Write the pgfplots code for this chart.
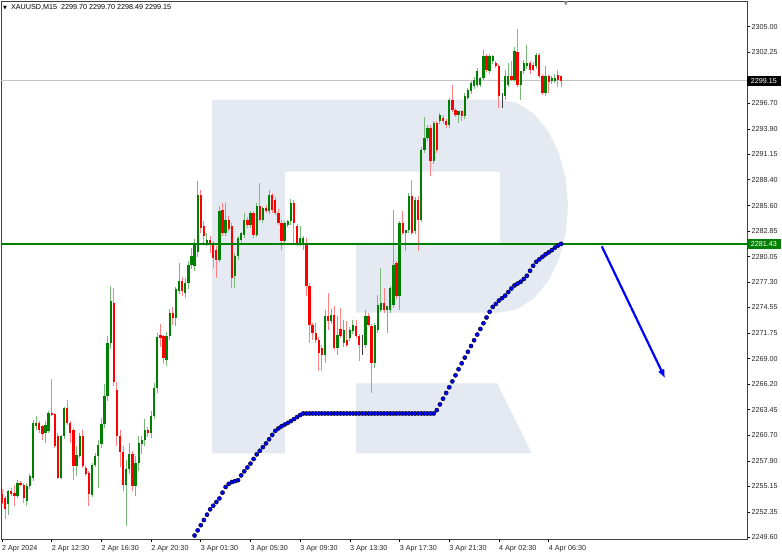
\documentclass[border=0pt]{standalone}
\usepackage{fontspec}
\setmainfont{Liberation Sans}
\newfontfamily\dejavu{DejaVu Sans}
\usepackage{pgfplots}
\usepackage{pgfplotstable}
\pgfplotsset{compat=1.18}
\usetikzlibrary{arrows.meta}
\definecolor{cgreen}{RGB}{0,128,0}
\definecolor{cred}{RGB}{255,0,0}
\definecolor{wgreen}{RGB}{120,185,120}
\definecolor{wred}{RGB}{255,130,130}
\definecolor{wm}{RGB}{228,233,242}
\definecolor{dotblue}{RGB}{0,0,255}
\definecolor{pline}{RGB}{195,195,195}

\pgfplotstableread{
i o h l c
2 2253.17 2254.80 2252.02 2254.62
5 2254.08 2255.88 2253.90 2255.52
8 2253.53 2255.50 2253.00 2255.16
9 2255.16 2256.50 2254.80 2256.24
10 2256.06 2262.30 2255.70 2262.03
11 2261.67 2262.75 2261.30 2262.03
14 2260.94 2262.21 2259.86 2261.85
15 2261.12 2263.30 2260.90 2263.11
19 2256.06 2260.76 2255.90 2260.58
20 2260.58 2263.80 2260.30 2263.65
24 2257.33 2259.50 2256.30 2258.49
25 2258.49 2260.90 2258.20 2260.58
29 2254.26 2257.70 2254.00 2257.51
30 2257.51 2258.80 2257.20 2258.41
31 2258.41 2260.20 2255.00 2259.68
32 2259.68 2262.50 2259.30 2261.85
33 2261.85 2266.20 2261.50 2264.90
34 2264.90 2271.40 2264.40 2270.70
35 2270.70 2276.90 2270.00 2275.20
40 2255.30 2258.00 2250.80 2257.00
41 2257.00 2259.80 2256.50 2258.60
43 2255.20 2258.40 2254.10 2257.70
44 2257.70 2260.60 2256.80 2259.86
45 2259.70 2260.60 2258.60 2260.20
46 2260.20 2262.40 2259.50 2261.30
48 2260.90 2263.30 2260.40 2262.75
49 2262.75 2266.40 2262.40 2265.80
50 2265.80 2271.80 2265.30 2271.40
53 2268.90 2271.90 2268.20 2271.40
54 2271.40 2274.40 2271.00 2273.95
56 2273.40 2276.80 2272.50 2276.50
57 2276.30 2279.40 2276.00 2277.40
59 2276.10 2277.80 2275.60 2277.20
60 2277.20 2279.60 2276.50 2279.20
61 2279.20 2281.00 2278.70 2280.10
62 2279.00 2282.00 2278.50 2281.50
63 2280.60 2288.24 2280.00 2286.79
66 2281.55 2282.63 2281.20 2281.91
70 2279.74 2285.52 2279.50 2284.98
72 2282.63 2285.89 2282.30 2284.08
75 2277.94 2280.50 2276.67 2280.10
76 2280.10 2282.30 2279.70 2282.09
77 2281.91 2282.70 2281.50 2282.63
78 2282.45 2284.80 2282.10 2284.08
80 2283.54 2284.98 2283.20 2284.80
82 2282.45 2285.89 2282.20 2285.52
84 2284.08 2285.40 2283.70 2285.34
86 2285.00 2287.33 2284.70 2286.79
91 2281.73 2283.90 2281.40 2283.72
92 2283.54 2284.00 2283.30 2283.90
93 2283.90 2286.30 2283.50 2285.89
96 2281.54 2283.36 2281.20 2282.09
97 2281.54 2282.30 2280.80 2282.09
104 2269.44 2274.32 2268.53 2273.59
106 2273.05 2274.32 2272.80 2273.77
108 2270.16 2273.59 2269.44 2271.60
110 2270.70 2273.23 2270.30 2272.15
112 2271.24 2272.40 2270.90 2272.15
113 2271.97 2273.20 2271.70 2272.69
117 2270.52 2274.32 2270.20 2273.59
120 2268.53 2272.90 2267.99 2272.69
121 2272.15 2275.94 2271.80 2274.86
122 2274.32 2278.83 2274.00 2275.04
124 2274.32 2274.70 2271.79 2274.68
125 2274.31 2276.90 2273.90 2276.66
126 2274.86 2285.16 2274.50 2279.19
128 2275.76 2283.90 2274.31 2283.71
130 2282.63 2283.00 2280.64 2282.99
131 2282.99 2286.96 2282.60 2286.60
133 2282.81 2286.50 2282.50 2286.24
135 2284.07 2292.00 2283.80 2291.66
136 2291.66 2295.27 2291.30 2292.93
137 2292.93 2294.30 2292.60 2294.01
139 2290.40 2294.80 2290.10 2294.55
141 2294.73 2295.60 2294.40 2295.45
144 2294.37 2297.30 2294.00 2297.08
147 2295.46 2295.90 2294.55 2295.82
149 2295.28 2297.80 2295.00 2297.45
150 2297.27 2298.40 2297.00 2298.17
151 2297.99 2299.10 2297.70 2298.89
152 2298.53 2299.50 2298.30 2299.25
153 2298.71 2300.50 2298.50 2300.16
154 2298.71 2299.60 2298.50 2299.44
155 2299.44 2302.51 2299.20 2301.78
157 2300.16 2302.00 2299.90 2301.78
158 2301.24 2301.97 2301.00 2301.78
162 2297.45 2300.34 2297.10 2299.62
163 2298.71 2301.06 2298.50 2299.62
165 2299.25 2302.80 2299.00 2302.33
167 2298.71 2300.16 2297.09 2300.16
168 2300.16 2301.40 2299.90 2301.06
169 2300.70 2303.05 2300.40 2301.06
172 2300.70 2302.15 2300.40 2301.97
175 2297.81 2300.70 2297.50 2299.62
177 2299.07 2299.62 2298.80 2299.44
178 2299.07 2299.90 2298.90 2299.44
}\greenbars

\pgfplotstableread{
i o h l c
0 2254.26 2254.80 2253.20 2253.35
1 2253.90 2254.10 2251.55 2252.63
3 2254.62 2254.98 2254.08 2254.26
4 2254.44 2255.34 2252.99 2254.08
6 2255.52 2255.70 2255.16 2255.34
7 2255.34 2255.52 2253.35 2253.90
12 2262.03 2262.21 2260.94 2261.30
13 2261.67 2261.85 2260.15 2260.76
16 2263.11 2266.73 2262.75 2262.93
17 2262.93 2263.11 2259.30 2259.50
18 2260.58 2260.90 2255.90 2256.06
21 2263.65 2264.56 2261.80 2262.03
22 2262.03 2262.20 2259.86 2260.94
23 2261.30 2261.50 2255.88 2257.33
26 2260.58 2261.30 2257.10 2257.33
27 2257.15 2257.40 2256.30 2256.43
28 2256.61 2256.80 2253.00 2254.26
36 2275.04 2276.66 2266.00 2266.50
37 2265.60 2266.50 2259.50 2260.60
38 2260.60 2261.30 2257.20 2258.90
39 2258.90 2259.50 2254.60 2255.30
42 2258.60 2259.00 2254.60 2255.20
47 2261.30 2261.60 2260.50 2260.90
51 2271.60 2272.70 2270.30 2271.20
52 2271.40 2271.60 2268.40 2269.10
55 2273.95 2274.60 2272.60 2273.40
58 2277.40 2277.80 2275.80 2276.30
64 2286.79 2287.33 2282.63 2283.18
65 2283.36 2283.90 2281.55 2282.27
67 2281.91 2282.27 2280.46 2281.37
68 2281.37 2281.73 2278.84 2279.92
69 2280.83 2281.20 2277.75 2279.74
71 2285.16 2285.90 2282.30 2282.63
73 2284.08 2284.50 2282.80 2283.00
74 2283.36 2283.70 2276.67 2277.75
79 2284.08 2284.40 2283.20 2283.54
81 2284.80 2285.00 2282.10 2282.45
83 2285.52 2288.05 2283.90 2284.08
85 2285.34 2285.70 2284.80 2285.00
87 2286.79 2286.97 2284.80 2285.16
88 2286.25 2286.50 2284.60 2284.80
89 2284.80 2285.20 2283.50 2283.72
90 2283.72 2284.00 2280.83 2281.73
94 2285.89 2286.25 2281.55 2283.72
95 2283.36 2283.60 2281.20 2281.40
98 2281.54 2282.10 2275.76 2276.85
99 2276.85 2277.20 2270.70 2272.69
100 2272.69 2272.87 2271.06 2271.79
101 2271.79 2272.87 2270.70 2271.06
102 2271.06 2271.40 2267.63 2269.60
103 2270.16 2270.50 2267.63 2269.44
105 2273.59 2276.12 2272.15 2273.05
107 2273.77 2274.68 2269.98 2270.16
109 2272.15 2274.50 2271.20 2271.43
111 2271.06 2273.05 2270.30 2270.52
114 2272.51 2273.23 2271.20 2271.43
115 2271.43 2271.70 2268.71 2270.52
118 2273.59 2274.00 2272.50 2272.69
119 2272.51 2272.80 2265.28 2268.53
123 2275.04 2276.67 2273.90 2274.32
127 2279.37 2279.60 2275.50 2275.76
129 2283.71 2284.97 2282.40 2282.63
132 2286.60 2288.40 2282.40 2282.63
134 2286.24 2286.60 2280.64 2284.07
138 2294.01 2294.30 2288.77 2290.40
140 2294.55 2294.80 2291.30 2291.66
142 2295.09 2295.45 2294.40 2294.73
143 2294.73 2295.00 2294.00 2294.37
145 2297.08 2298.71 2295.80 2295.99
146 2295.99 2296.20 2295.20 2295.46
148 2295.82 2296.00 2294.73 2295.28
156 2301.78 2302.00 2300.10 2300.34
159 2301.06 2301.30 2300.50 2300.70
160 2300.70 2301.00 2296.18 2297.45
164 2299.62 2301.24 2299.10 2299.25
166 2302.33 2304.75 2298.50 2298.71
170 2301.06 2301.30 2299.90 2300.34
171 2300.88 2301.20 2300.20 2300.34
173 2301.97 2302.15 2299.50 2299.62
174 2299.62 2299.90 2297.60 2297.81
176 2299.62 2299.80 2297.81 2299.07
179 2299.80 2300.30 2298.50 2299.25
180 2299.70 2299.70 2298.49 2299.15
}\redbars

\pgfplotstableread{
i o h l c
116 2270.52 2271.60 2269.44 2270.52
161 2297.45 2297.80 2296.18 2297.45
}\dojibars

\pgfplotstableread{
i p
61 2249.23
62 2249.80
63 2250.36
64 2250.92
65 2251.48
66 2252.06
67 2252.64
68 2253.03
69 2253.43
70 2253.82
71 2254.45
72 2255.06
73 2255.40
74 2255.60
75 2255.70
76 2255.80
77 2256.32
78 2256.76
79 2257.18
80 2257.60
81 2258.10
82 2258.60
83 2258.99
84 2259.39
85 2259.79
86 2260.24
87 2260.71
88 2261.15
89 2261.42
90 2261.65
91 2261.83
92 2262.01
93 2262.21
94 2262.43
95 2262.65
96 2262.87
97 2263.04
98 2263.04
99 2263.04
100 2263.04
101 2263.04
102 2263.04
103 2263.04
104 2263.04
105 2263.04
106 2263.04
107 2263.04
108 2263.04
109 2263.04
110 2263.04
111 2263.04
112 2263.04
113 2263.04
114 2263.04
115 2263.04
116 2263.04
117 2263.04
118 2263.04
119 2263.04
120 2263.04
121 2263.04
122 2263.04
123 2263.04
124 2263.04
125 2263.04
126 2263.04
127 2263.04
128 2263.04
129 2263.04
130 2263.04
131 2263.04
132 2263.04
133 2263.04
134 2263.04
135 2263.04
136 2263.04
137 2263.04
138 2263.04
139 2263.04
140 2263.40
141 2264.02
142 2264.64
143 2265.26
144 2265.88
145 2266.52
146 2267.18
147 2267.84
148 2268.48
149 2269.10
150 2269.73
151 2270.36
152 2270.98
153 2271.60
154 2272.21
155 2272.83
156 2273.45
157 2274.07
158 2274.60
159 2274.92
160 2275.29
161 2275.55
162 2275.82
163 2276.21
164 2276.60
165 2276.93
166 2277.13
167 2277.33
168 2277.63
169 2277.98
170 2278.52
171 2279.06
172 2279.49
173 2279.76
174 2280.03
175 2280.30
176 2280.52
177 2280.75
178 2281.03
179 2281.26
180 2281.44
}\bluedots

\pgfplotsset{
  wick/.style={only marks, mark=*, mark size=0pt, mark options={draw=none, fill=none}, forget plot,
    error bars/.cd, y dir=both, y explicit, error mark=none,
    error bar style={draw=#1, line width=1bp}},
  body/.style={only marks, mark=*, mark size=0pt, mark options={draw=none, fill=none}, forget plot,
    error bars/.cd, y dir=both, y explicit, error mark=none,
    error bar style={draw=#1, line width=2.3bp}},
}

\begin{document}
\begin{tikzpicture}
\useasboundingbox (0,0) rectangle (782bp,557bp);
\begin{axis}[
  at={(1bp,18bp)}, anchor=south west,
  width=746bp, height=538bp, scale only axis,
  xmin=-0.322, xmax=239.86, ymin=2249.42, ymax=2307.79,
  clip mode=individual,
  axis line style={black!75, line width=0.8bp},
  tick align=outside, major tick length=3bp,
  tick style={black, line width=0.6bp},
  xtick pos=left, ytick pos=right, yticklabel pos=right,
  /pgf/number format/assume math mode=true,
  tick label style={font=\fontsize{7.2bp}{8bp}\selectfont, text=black!85},
  xtick={0,16,32,48,64,80,96,112,128,144,160,176},
  xticklabels={2 Apr 2024,2 Apr 12:30,2 Apr 16:30,2 Apr 20:30,3 Apr 01:30,3 Apr 05:30,3 Apr 09:30,3 Apr 13:30,3 Apr 17:30,3 Apr 21:30,4 Apr 02:30,4 Apr 06:30},
  xticklabel style={anchor=north west, inner sep=0pt, yshift=-3bp},
  ytick={2249.60,2252.35,2255.15,2257.90,2260.70,2263.45,2266.20,2269.00,2271.75,2274.55,2277.30,2280.05,2282.85,2285.60,2288.40,2291.15,2293.90,2296.70,2299.45,2302.25,2305.00},
  yticklabels={2249.60,2252.35,2255.15,2257.90,2260.70,2263.45,2266.20,2269.00,2271.75,2274.55,2277.30,2280.05,2282.85,2285.60,2288.40,2291.15,2293.90,2296.70,,2302.25,2305.00},
  yticklabel style={anchor=west, inner sep=0pt, xshift=1.5bp},
]
% watermark logo
\addplot[fill=wm, draw=none, forget plot] coordinates {
 (67.6,2297.09) (160.33,2297.09) (166.0,2296.70) (171.28,2295.54) (175.82,2293.70)
 (179.3,2291.31) (181.49,2288.53) (182.23,2285.54) (181.49,2282.55) (179.3,2279.77)
 (175.82,2277.38) (171.28,2275.54) (166.0,2274.38) (160.33,2273.99) (114.0,2273.99)
 (114.0,2281.58) (160.33,2281.58) (160.33,2289.28) (91.1,2289.28) (91.1,2258.71)
 (67.6,2258.71)};
\addplot[fill=wm, draw=none, forget plot] coordinates {
 (114.0,2266.3) (159.4,2266.3) (170.6,2258.71) (114.0,2258.71)};
% current price line
\addplot[pline, line width=0.8bp, forget plot] coordinates {(-1,2299.15) (241,2299.15)};
% wicks
\addplot[wick=wgreen] table[x=i, y expr={(\thisrow{h}+\thisrow{l})/2}, y error expr={(\thisrow{h}-\thisrow{l})/2}] {\greenbars};
\addplot[wick=wred] table[x=i, y expr={(\thisrow{h}+\thisrow{l})/2}, y error expr={(\thisrow{h}-\thisrow{l})/2}] {\redbars};
\addplot[wick=black!75] table[x=i, y expr={(\thisrow{h}+\thisrow{l})/2}, y error expr={(\thisrow{h}-\thisrow{l})/2}] {\dojibars};
% bodies
\addplot[body=cgreen] table[x=i, y expr={(\thisrow{o}+\thisrow{c})/2}, y error expr={max(abs(\thisrow{c}-\thisrow{o})/2,0.06)}] {\greenbars};
\addplot[body=cred] table[x=i, y expr={(\thisrow{o}+\thisrow{c})/2}, y error expr={max(abs(\thisrow{c}-\thisrow{o})/2,0.06)}] {\redbars};
% level line
\addplot[cgreen, line width=1.4bp, forget plot] coordinates {(-1,2281.43) (241,2281.43)};
% blue dots
\addplot[only marks, mark=*, mark size=2.1bp, mark options={draw=none, fill=dotblue}, forget plot] table[x=i, y=p] {\bluedots};
% arrow
\addplot[dotblue, line width=2.2bp, -{Latex[length=9bp, width=7bp]}, forget plot] coordinates {(193.1,2281.18) (213.5,2266.84)};
% price labels
\node[fill=cgreen, text=white, inner sep=0pt, minimum width=33.5bp, minimum height=10bp, anchor=west, font=\fontsize{7.2bp}{8bp}\selectfont] at (axis cs:239.86,2281.43) {2281.43};
\node[fill=black, text=white, inner sep=0pt, minimum width=33.5bp, minimum height=10bp, anchor=west, font=\fontsize{7.2bp}{8bp}\selectfont] at (axis cs:239.86,2299.15) {2299.15};
% header
\node[anchor=west, inner sep=0pt, font=\fontsize{7.2bp}{8bp}\selectfont] at (rel axis cs:0,1) [xshift=2bp, yshift=-6.5bp] {{\dejavu\fontsize{5bp}{6bp}\selectfont ▼}\hspace{4bp}XAUUSD,M15\hspace{4bp}2299.70 2299.70 2298.49 2299.15};
\node[anchor=north, inner sep=0pt, text=black!45, font=\dejavu\fontsize{6bp}{6bp}\selectfont] at (axis cs:181.6,2307.79) {▼};
\end{axis}
\end{tikzpicture}
\end{document}
